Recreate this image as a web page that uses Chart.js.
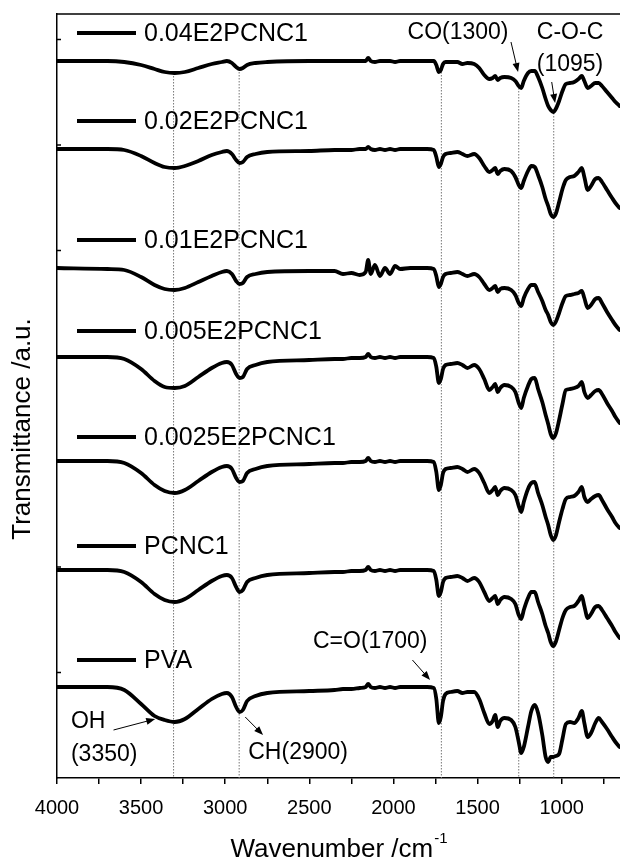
<!DOCTYPE html>
<html><head><meta charset="utf-8">
<script src="https://cdn.jsdelivr.net/npm/chart.js@4.4.1/dist/chart.umd.min.js"></script>
<style>html,body{margin:0;padding:0;background:#fff}#wrap{width:620px;height:862px}</style>
</head><body><div id="wrap"><canvas id="c" width="620" height="862"></canvas></div>
<script>
// ---- data (wavenumber in cm-1, transmittance in arbitrary units, curves stacked) ----
const wavenumbers = [4000,3700,3600,3500,3420,3360,3300,3240,3160,3080,3020,2990,2960,2935,2915,2895,2870,2820,2750,2500,2350,2300,2250,2200,2165,2150,2135,2110,2080,2050,2020,1990,1960,1900,1800,1760,1745,1730,1718,1705,1690,1660,1620,1590,1560,1520,1490,1460,1430,1410,1395,1380,1365,1340,1300,1275,1255,1240,1225,1200,1180,1160,1140,1115,1095,1080,1065,1050,1035,1015,995,975,950,925,900,880,865,845,825,800,780,760,730,700,680,655];
const seriesLabels = ['0.04E2PCNC1','0.02E2PCNC1','0.01E2PCNC1','0.005E2PCNC1','0.0025E2PCNC1','PCNC1','PVA'];
const t004 = [717,717,716,713,709,706,705,706,710,714,716,717,715,711,709,710,713,715,716,717,717,717,717,717,717,720,717,716,717,717,717,716,717,717,717,717,713,706,708,714,716,716,716,714,715,714,710,703,699,700,702,698,700,701,700,697,692,690,697,705,707,707,701,690,679,672,668,666,669,677,687,694,695,696,699,702,697,690,692,695,695,692,686,680,676,672];
const t002 = [629,629,628,622,615,611,610,612,617,623,626,627,624,618,615,616,621,624,626,627,628,628,628,629,629,631,629,628,629,628,629,628,629,629,629,628,621,611,614,621,624,625,626,624,622,624,620,612,606,608,610,604,607,609,607,601,593,590,597,607,612,611,603,591,579,572,564,561,564,576,589,598,601,602,606,610,601,588,592,599,600,596,588,580,575,570];
const t001 = [510,509,508,501,493,489,488,490,496,502,506,507,504,497,494,495,501,504,506,507,507,504,505,503,506,518,504,513,502,510,504,512,509,510,510,509,502,491,494,501,504,505,506,504,502,504,501,494,488,490,492,486,489,490,488,483,475,472,480,489,493,493,486,477,468,463,456,453,456,465,475,482,483,484,485,487,480,470,473,479,480,475,466,458,453,448];
const t0005 = [421,421,419,409,397,391,390,392,401,410,415,416,413,404,400,401,409,413,416,418,419,419,420,420,421,424,421,420,421,420,421,420,421,421,421,420,411,395,399,409,413,414,415,413,410,413,409,399,388,391,394,386,390,393,391,386,375,370,380,392,399,400,389,376,363,354,344,340,344,358,374,388,389,390,392,396,386,380,383,387,388,384,375,367,361,355];
const t00025 = [317,317,315,305,293,287,285,288,297,306,311,312,309,300,296,297,305,309,312,314,315,315,316,316,317,320,317,316,317,316,317,316,317,317,317,316,306,288,293,305,309,310,311,309,306,309,305,295,285,288,291,283,287,290,288,283,272,266,276,289,295,296,285,273,261,253,243,238,242,256,269,279,281,282,286,291,281,276,279,282,283,278,269,261,255,250];
const tPCNC1 = [208,208,206,196,184,178,176,179,188,197,202,203,200,191,186,188,196,200,203,205,206,206,207,207,208,211,208,207,208,207,208,207,208,208,208,207,198,182,186,196,200,201,202,200,197,200,196,186,177,180,182,174,178,181,179,174,163,159,168,180,186,186,176,164,152,145,136,132,136,148,160,168,171,172,177,182,172,160,164,171,172,168,160,152,146,140];
const tPVA = [91,91,88,74,62,58,56,59,69,79,84,85,81,71,66,68,77,82,85,87,88,89,89,90,91,94,91,90,91,90,91,90,91,91,91,90,79,55,61,77,84,86,87,85,86,86,79,65,54,57,63,51,57,60,58,51,36,25,31,51,67,73,65,43,21,16,21,21,22,24,39,54,56,55,60,67,55,41,45,55,60,56,49,41,36,31];
const allSeries = [t004, t002, t001, t0005, t00025, tPCNC1, tPVA];

// band markers (dotted guide lines)
const bandWavenumbers = [3307, 2917, 1715, 1255, 1047];
const bandTops = [705, 709, 706, 690, 665];

// axis ticks
const xTickValues = [4000,3750,3500,3250,3000,2750,2500,2250,2000,1750,1500,1250,1000,750];
const yTickValues = [105.5,211,316.5,422,527.5,633,738.5];

// annotations: text, wavenumber, a.u.
const annoTexts = [
  {t:'CO(1300)', x:1616, y:745, align:'center'},
  {t:'C-O-C', x:950, y:745, align:'center'},
  {t:'(1095)', x:950, y:713, align:'center'},
  {t:'C=O(1700)', x:2138, y:136, align:'center'},
  {t:'OH', x:3917, y:56, align:'left'},
  {t:'(3350)', x:3917, y:23, align:'left'},
  {t:'CH(2900)', x:2863, y:25, align:'left'}
];
const annoArrows = [
  [1301,736,1259,706],
  [1059,696,1039,675],
  [1887,118,1782,98],
  [3664,48,3416,59],
  [2881,61,2775,43]
];
const legendPos = [745,657,538,447,341,232,118];

const FONT = '"Liberation Sans", Arial, sans-serif';

const datasets = allSeries.map((s, i) => ({
  label: seriesLabels[i],
  data: wavenumbers.map((w, j) => ({x: w, y: s[j]})),
  borderColor: '#000', borderWidth: 3.8, pointRadius: 0,
  cubicInterpolationMode: 'monotone', borderJoinStyle: 'round', borderCapStyle: 'round',
  order: 0
}));
bandWavenumbers.forEach((w, i) => datasets.push({
  label: 'band' + i,
  data: [{x: w, y: bandTops[i]}, {x: w, y: 0}],
  borderColor: '#777', borderWidth: 1, borderDash: [1.5, 1.5], pointRadius: 0, order: 10
}));

const decor = {
  id: 'decor',
  afterDatasetsDraw(chart) {
    const {ctx, chartArea: a, scales: {x, y}} = chart;
    ctx.save();
    ctx.strokeStyle = '#000'; ctx.fillStyle = '#000';
    ctx.lineWidth = 1.5;
    ctx.beginPath(); ctx.moveTo(a.left, a.top); ctx.lineTo(a.right, a.top); ctx.stroke();
    yTickValues.forEach(v => {
      const py = y.getPixelForValue(v);
      ctx.beginPath(); ctx.moveTo(a.left, py); ctx.lineTo(a.left + 4, py); ctx.stroke();
    });
    // legend entries beside each curve
    ctx.lineWidth = 4; ctx.lineCap = 'butt';
    ctx.font = '25px ' + FONT; ctx.textBaseline = 'middle'; ctx.textAlign = 'left';
    seriesLabels.forEach((lab, i) => {
      const py = y.getPixelForValue(legendPos[i]);
      ctx.beginPath(); ctx.moveTo(a.left + 20, py); ctx.lineTo(a.left + 79, py); ctx.stroke();
      ctx.fillText(lab, a.left + 87, py + 1);
    });
    // annotation text
    ctx.font = '23px ' + FONT;
    annoTexts.forEach(o => {
      ctx.textAlign = o.align;
      ctx.fillText(o.t, x.getPixelForValue(o.x), y.getPixelForValue(o.y));
    });
    // arrows
    ctx.lineWidth = 1;
    annoArrows.forEach(r => {
      const x1 = x.getPixelForValue(r[0]), y1 = y.getPixelForValue(r[1]);
      const x2 = x.getPixelForValue(r[2]), y2 = y.getPixelForValue(r[3]);
      const ang = Math.atan2(y2 - y1, x2 - x1);
      ctx.beginPath(); ctx.moveTo(x1, y1); ctx.lineTo(x2 - 6 * Math.cos(ang), y2 - 6 * Math.sin(ang)); ctx.stroke();
      ctx.beginPath();
      ctx.moveTo(x2, y2);
      ctx.lineTo(x2 - 9 * Math.cos(ang) + 3.5 * Math.sin(ang), y2 - 9 * Math.sin(ang) - 3.5 * Math.cos(ang));
      ctx.lineTo(x2 - 9 * Math.cos(ang) - 3.5 * Math.sin(ang), y2 - 9 * Math.sin(ang) + 3.5 * Math.cos(ang));
      ctx.closePath(); ctx.fill();
    });
    // axis titles
    ctx.font = '26px ' + FONT; ctx.textAlign = 'left'; ctx.textBaseline = 'alphabetic';
    const main = 'Wavenumber /cm', sup = '-1';
    const wMain = ctx.measureText(main).width;
    ctx.font = '15px ' + FONT;
    const wSup = ctx.measureText(sup).width;
    const cx = (a.left + a.right) / 2;
    const x0 = cx - (wMain + wSup) / 2;
    ctx.font = '26px ' + FONT;
    ctx.fillText(main, x0, 857);
    ctx.font = '15px ' + FONT;
    ctx.fillText(sup, x0 + wMain + 1, 843);
    ctx.save();
    ctx.translate(23, 429); ctx.rotate(-Math.PI / 2);
    ctx.font = '26px ' + FONT; ctx.textAlign = 'center'; ctx.textBaseline = 'middle';
    ctx.fillText('Transmittance /a.u.', 0, 0);
    ctx.restore();
    ctx.restore();
  }
};

new Chart(document.getElementById('c'), {
  type: 'line',
  data: {datasets},
  options: {
    responsive: false, animation: false, events: [],
    layout: {padding: {left: 0, right: 0, top: 14, bottom: 0}},
    plugins: {legend: {display: false}, tooltip: {enabled: false}},
    scales: {
      x: {
        type: 'linear', min: 653, max: 4000, reverse: true,
        afterBuildTicks: s => { s.ticks = xTickValues.map(v => ({value: v})); },
        afterFit: s => { s.height = 84; s.paddingLeft = 0; s.paddingRight = 0; },
        ticks: {autoSkip: false, maxRotation: 0, padding: 12, color: '#000',
          font: {size: 20, family: FONT},
          callback: v => (v % 500 === 0 ? String(v) : '')},
        grid: {display: true, drawOnChartArea: false, drawTicks: true, tickLength: 6, color: '#000', lineWidth: 1.5},
        border: {display: true, color: '#000', width: 1.5}
      },
      y: {
        type: 'linear', min: 0, max: 764,
        afterFit: s => { s.width = 57; },
        ticks: {display: false},
        grid: {display: false},
        border: {display: true, color: '#000', width: 1.5}
      }
    }
  },
  plugins: [decor]
});
</script></body></html>
